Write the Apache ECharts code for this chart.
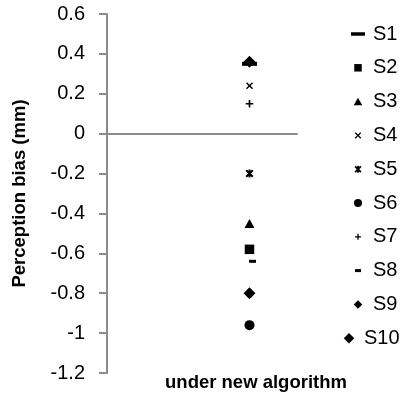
<!DOCTYPE html>
<html>
<head>
<meta charset="utf-8">
<script src="https://cdn.jsdelivr.net/npm/echarts@6/dist/echarts.min.js"></script>
<style>html,body{margin:0;padding:0;background:#fff}#c{width:414px;height:403px}</style>
</head>
<body>
<div id="c"></div>
<script>
// ---- data ----
const seriesNames = ['S1','S2','S3','S4','S5','S6','S7','S8','S9','S10'];
const seriesValues = [0.35, -0.58, -0.45, 0.24, -0.2, -0.96, 0.15, -0.64, -0.8, 0.36];
const categoryLabel = 'under new algorithm';
const yAxisTitle = 'Perception bias (mm)';
const yMin = -1.2, yMax = 0.6, yStep = 0.2;

// ---- symbol helpers (framed in a 20x20 box so sizes are absolute) ----
const F = 20;
function framed(body){ return 'path://M0,0 M' + F + ',' + F + ' ' + body; }
function poly(pts, s){ // pts in 0..10 space
  const k = s/10;
  return pts.map((p,i)=> (i? 'L':'M') + (10+(p[0]-5)*k).toFixed(2) + ',' + (10+(p[1]-5)*k).toFixed(2)).join(' ') + ' Z';
}
function rect(w,h){ return 'M'+(10-w/2)+','+(10-h/2)+' L'+(10+w/2)+','+(10-h/2)+' L'+(10+w/2)+','+(10+h/2)+' L'+(10-w/2)+','+(10+h/2)+' Z'; }
function tri(w,h){ return 'M10,'+(10-h/2)+' L'+(10+w/2)+','+(10+h/2)+' L'+(10-w/2)+','+(10+h/2)+' Z'; }
function dia(w,h){ return 'M10,'+(10-h/2)+' L'+(10+w/2)+',10 L10,'+(10+h/2)+' L'+(10-w/2)+',10 Z'; }
function circ(d){ const r=d/2; return 'M'+(10-r)+',10 A'+r+','+r+' 0 1,0 '+(10+r)+',10 A'+r+','+r+' 0 1,0 '+(10-r)+',10 Z'; }
function xs(s,a){ return poly([[0,a],[a,0],[5,5-a],[10-a,0],[10,a],[5+a,5],[10,10-a],[10-a,10],[5,5+a],[a,10],[0,10-a],[5-a,5]], s); }
function plus(s,c){ return poly([[5-c,0],[5+c,0],[5+c,5-c],[10,5-c],[10,5+c],[5+c,5+c],[5+c,10],[5-c,10],[5-c,5+c],[0,5+c],[0,5-c],[5-c,5-c]], s); }
function star(s,a,c){ return xs(s,a) + ' ' + poly([[5-c,0],[5+c,0],[5+c,10],[5-c,10]], s); }

const plotSym = [
  rect(15,4), rect(9.5,9.5), tri(10,9), xs(7,1.5), star(8,1.8,1.2),
  circ(10), plus(7.5,1.1), rect(7,3), dia(12,12), dia(12,12)
].map(framed);
const legendSym = [
  rect(14,3.5), rect(7.5,7.5), tri(8.5,7.5), xs(6.5,1.5), star(7,1.8,1.2),
  circ(8), plus(6,1.1), rect(6,3), dia(8.5,8.5), dia(10.5,10.5)
].map(framed);

const series = seriesNames.map((n,i)=>({
  name: n,
  type: 'scatter',
  data: [[0.75, seriesValues[i]]],
  symbol: plotSym[i],
  symbolSize: F,
  symbolOffset: n === 'S8' ? [3,0] : [0,0],
  itemStyle: { color: '#000', opacity: 1 },
  emphasis: { disabled: true },
  z: 3 + i
}));

const font = 'Liberation Sans';
const chart = echarts.init(document.getElementById('c'), null, {renderer:'canvas'});
chart.setOption({
  animation: false,
  backgroundColor: '#fff',
  textStyle: { fontFamily: font },
  grid: { left: 107, right: 117, top: 14, bottom: 30, containLabel: false },
  title: {
    text: categoryLabel, left: 256, top: 373, padding: 0, textAlign: 'center',
    textStyle: { fontFamily: font, fontWeight: 'bold', fontSize: 18.5, color: '#000' }
  },
  legend: [
    {
      orient: 'vertical', left: 343, top: 19, itemWidth: F, itemHeight: F, itemGap: 13.8,
      selectedMode: false,
      data: seriesNames.slice(0,9).map((n,i)=>({ name: n, icon: legendSym[i] })),
      textStyle: { fontFamily: font, fontSize: 20, color: '#000' }
    },
    {
      orient: 'vertical', left: 334, top: 19 + 9*33.8, itemWidth: F, itemHeight: F,
      selectedMode: false,
      data: [{ name: 'S10', icon: legendSym[9] }],
      textStyle: { fontFamily: font, fontSize: 20, color: '#000' }
    }
  ],
  xAxis: {
    type: 'value', min: 0, max: 1,
    axisLine: { show: true, onZero: true, lineStyle: { color: '#8c8c8c', width: 2 } },
    axisTick: { show: false }, axisLabel: { show: false }, splitLine: { show: false }
  },
  yAxis: {
    type: 'value', min: yMin, max: yMax, interval: yStep,
    name: yAxisTitle, nameLocation: 'middle', nameGap: 78,
    nameTextStyle: { fontFamily: font, fontWeight: 'bold', fontSize: 18.5, color: '#000' },
    axisLine: { show: true, lineStyle: { color: '#8c8c8c', width: 2 } },
    axisTick: { show: true, inside: false, length: 8, lineStyle: { color: '#8c8c8c', width: 2 } },
    axisLabel: { margin: 22, fontFamily: font, fontSize: 20, color: '#000' },
    splitLine: { show: false }
  },
  series: series
});
</script>
</body>
</html>
